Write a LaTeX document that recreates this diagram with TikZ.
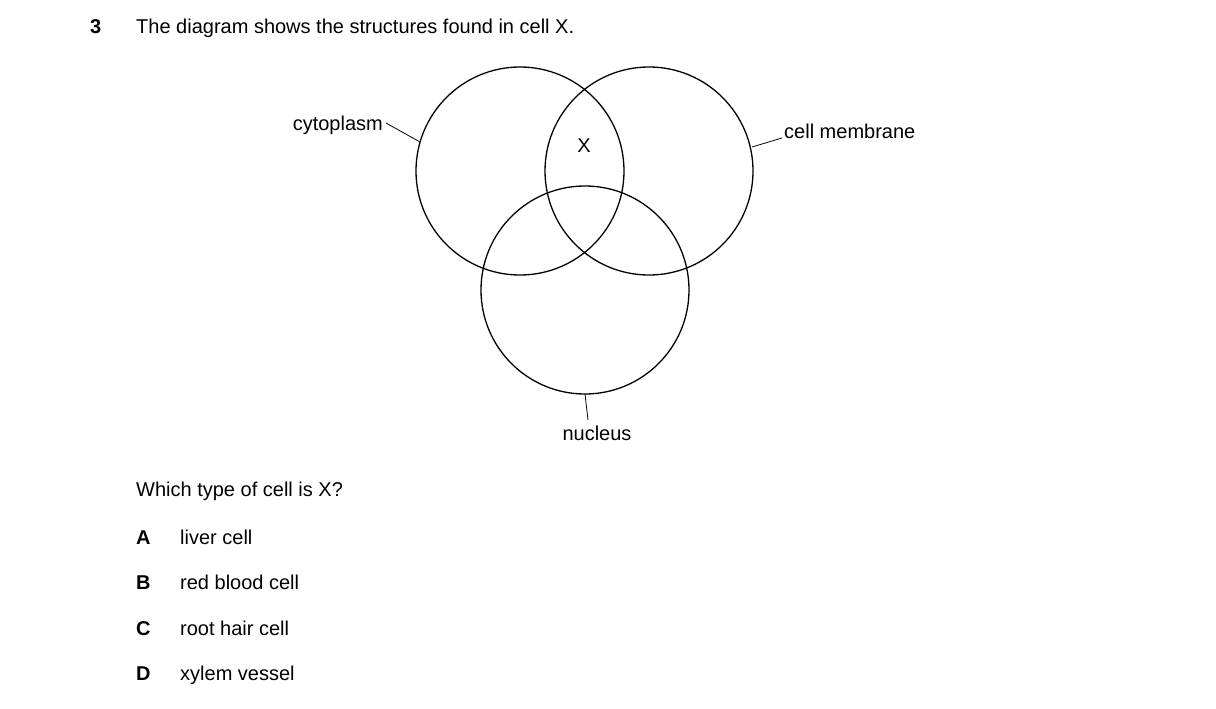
\documentclass[tikz,border=0pt]{standalone}
\usepackage{fontspec}
\setmainfont{Liberation Sans}
\begin{document}
\begin{tikzpicture}[x=1pt,y=-1pt,
  txt/.style={font=\fontsize{20}{24}\selectfont,inner sep=0pt},
  circ/.style={draw,line width=1.3pt},
  lead/.style={draw,line width=0.8pt}]
\useasboundingbox (0,0) rectangle (1216,709);
\node[txt,font=\fontsize{20}{24}\selectfont\bfseries,anchor=base west] (n3) at (90,34) {3};
\node[txt,anchor=base west] (q) at (136,34) {The diagram shows the structures found in cell X.};
\draw[circ] (520,171) circle (104);
\draw[circ] (649,171) circle (104);
\draw[circ] (585,290) circle (104);
\node[txt] (x) at (584,146) {X};
\node[txt,anchor=base east] (cyt) at (383,130) {cytoplasm};
\coordinate (cytE) at (420,142);
\draw[lead] (386,123) -- (cytE);
\node[txt,anchor=base west] (mem) at (784,138) {cell membrane};
\coordinate (memE) at (752,147);
\draw[lead] (782,138) -- (memE);
\node[txt,anchor=base] (nuc) at (597,440) {nucleus};
\coordinate (nucE) at (585,394);
\draw[lead] (588,420) -- (nucE);
\node[txt,anchor=base west] (w) at (136,496) {Which type of cell is X?};
\foreach \l/\t/\y in {A/liver cell/544,B/red blood cell/589,C/root hair cell/635,D/xylem vessel/680}{
  \node[txt,font=\fontsize{20}{24}\selectfont\bfseries,anchor=base west] (l\l) at (136,\y) {\l};
  \node[txt,anchor=base west] (t\l) at (180,\y) {\t};
}
\end{tikzpicture}
\end{document}
